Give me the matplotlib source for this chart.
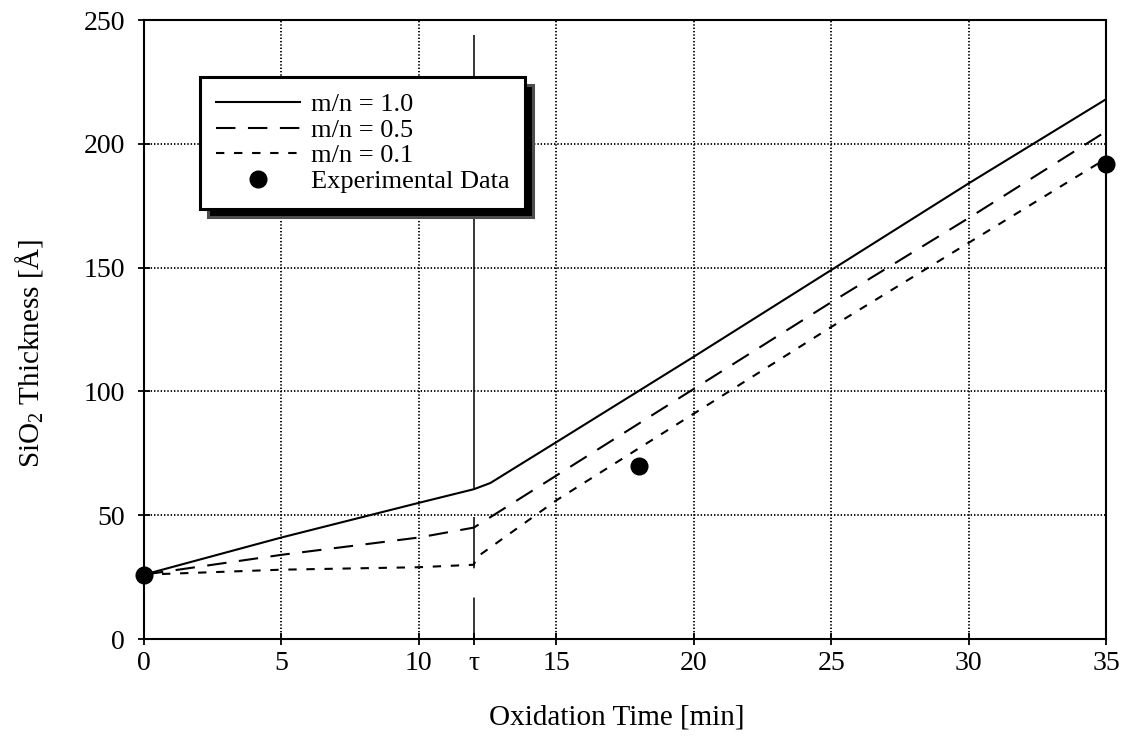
import numpy as np
import matplotlib
matplotlib.use("Agg")
import matplotlib.pyplot as plt

plt.rcParams['font.family'] = ['Liberation Serif', 'DejaVu Serif']
plt.rcParams['mathtext.fontset'] = 'custom'
plt.rcParams['mathtext.rm'] = 'Liberation Serif'
plt.rcParams['mathtext.it'] = 'Liberation Serif:italic'
plt.rcParams['lines.scale_dashes'] = False

# oxide thickness curves
time_10 = [0, 5, 10, 12, 12.6, 15, 20, 25, 30, 35]
thick_10 = [26, 41, 55, 60.5, 63, 79.5, 114, 149, 184, 218]
time_05 = [0, 5, 10, 12, 15, 20, 25, 30, 35]
thick_05 = [26, 34, 41, 45, 66, 101, 136, 170, 205]
time_01 = [0, 5, 10, 12, 12.1, 15, 20, 25, 30, 35]
thick_01 = [26, 28, 29, 30, 33, 56, 91, 126, 160, 194]
exp_time = [0, 18, 35]
exp_thick = [26, 70, 192]
tau = 12
tau_top = 244

xticks = [0, 5, 10, tau, 15, 20, 25, 30, 35]
xticklabels = ['0', '5', '10', 'τ', '15', '20', '25', '30', '35']
yticks = [0, 50, 100, 150, 200, 250]

fig = plt.figure(figsize=(11.24, 7.44), dpi=100)
ax = fig.add_axes([0.1281, 0.1411, 0.8559, 0.832])

ax.plot(time_10, thick_10, color='black', lw=1.5, label='m/n = 1.0')
ax.plot(time_05, thick_05, color='black', lw=1.5, dashes=(14, 9), label='m/n = 0.5')
ax.plot(time_01, thick_01, color='black', lw=1.5, dashes=(6, 7), label='m/n = 0.1')
ax.plot(exp_time, exp_thick, 'o', color='black', ms=12, clip_on=False, zorder=5,
        label='Experimental Data')

# tau marker line
ax.plot([tau, tau], [tau_top, 0], color='black', lw=1.1,
        dashes=(327, 20, 37, 21, 40, 0))

ax.set_xlim(0, 35)
ax.set_ylim(0, 250)
ax.set_xticks(xticks)
ax.set_xticklabels(xticklabels)
ax.set_yticks(yticks)
ax.tick_params(direction='inout', length=9, width=1.3, labelsize=20)
ax.tick_params(axis='y', pad=9)
ax.tick_params(axis='x', pad=4)

ax.grid(True, color='black', lw=1.3, linestyle=(0, (1, 1.4)))
ax.get_xgridlines()[3].set_visible(False)

for s in ax.spines.values():
    s.set_linewidth(1.5)

ax.set_xlabel('Oxidation Time [min]', fontsize=21)
ax.set_ylabel('SiO$_2$ Thickness [Å]', fontsize=21)
ax.xaxis.set_label_coords(0.491, -0.105)
ax.yaxis.set_label_coords(-0.103, 0.462)

leg = ax.legend(loc='upper left', bbox_to_anchor=(0.058, 0.908), borderaxespad=0,
                fontsize=19, frameon=True, fancybox=False, handlelength=3.2,
                handletextpad=0.4, labelspacing=0.08, borderpad=0.6,
                shadow={'ox': 6, 'oy': -6, 'facecolor': 'black', 'alpha': 1})
leg.get_frame().set_edgecolor('black')
leg.get_frame().set_linewidth(2.2)
leg.get_frame().set_alpha(1)

fig.savefig('out.png', dpi=100)
